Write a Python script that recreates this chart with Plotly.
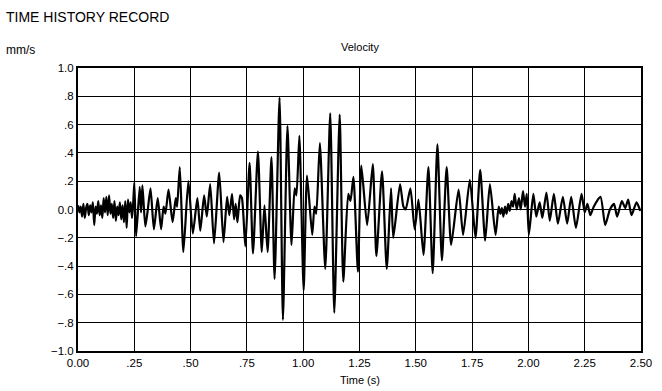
import plotly.graph_objects as go

# Velocity time history (extrema)
time_s = [
    0.000, 0.006, 0.012, 0.018, 0.024, 0.030, 0.036, 0.042, 0.048, 0.054,
    0.060, 0.066, 0.072, 0.078, 0.084, 0.090, 0.096, 0.102, 0.108, 0.114,
    0.120, 0.126, 0.132, 0.138, 0.144, 0.150, 0.156, 0.162, 0.168, 0.174,
    0.180, 0.186, 0.192, 0.198, 0.204, 0.210, 0.216, 0.222, 0.228, 0.234,
    0.240, 0.245,
    0.25, 0.258, 0.274, 0.28, 0.286, 0.299, 0.31, 0.322, 0.337, 0.354,
    0.369, 0.38, 0.388, 0.402, 0.42, 0.434, 0.44, 0.452, 0.468, 0.490,
    0.51, 0.53, 0.543, 0.56, 0.572, 0.587, 0.604, 0.627, 0.646, 0.662,
    0.672, 0.684, 0.693, 0.70, 0.708, 0.72, 0.728, 0.743, 0.762, 0.777,
    0.799, 0.816, 0.828, 0.842, 0.859, 0.873, 0.895, 0.91, 0.93, 0.948,
    0.962, 0.97, 0.983, 1.002, 1.017, 1.04, 1.05, 1.058, 1.074, 1.098,
    1.12, 1.138, 1.162, 1.178, 1.20, 1.21, 1.223, 1.243, 1.258, 1.284,
    1.309, 1.325, 1.35, 1.371, 1.39, 1.40, 1.43, 1.445, 1.455, 1.476,
    1.495, 1.512, 1.534, 1.556, 1.575, 1.596, 1.616, 1.637, 1.657, 1.69,
    1.71, 1.74, 1.765, 1.786, 1.808, 1.829, 1.854, 1.868, 1.875, 1.882,
    1.889, 1.896, 1.903, 1.910, 1.917, 1.925, 1.932, 1.939, 1.948, 1.958,
    1.966, 1.976, 1.985,
    1.993, 2.002, 2.022, 2.035, 2.05, 2.062, 2.08, 2.095, 2.113, 2.131,
    2.153, 2.172, 2.19, 2.211, 2.236, 2.25, 2.262, 2.275, 2.29, 2.32,
    2.341, 2.362, 2.38, 2.394, 2.415, 2.43, 2.443, 2.458, 2.48, 2.497,
]
velocity = [
    0.03, -0.02, 0.02, -0.05, 0.04, -0.06, 0.01, 0.04, -0.04, 0.03,
    -0.02, 0.05, -0.11, 0.02, -0.03, 0.06, -0.04, 0.03, -0.06, 0.08,
    -0.02, 0.09, -0.04, 0.10, -0.03, 0.04, -0.06, 0.06, -0.08, 0.02,
    -0.04, 0.05, -0.07, 0.03, -0.09, 0.06, -0.13, 0.07, -0.02, 0.05,
    -0.06, 0.04,
    0.19, -0.19, 0.16, -0.02, 0.17, -0.12, 0.00, 0.15, -0.14, 0.08,
    -0.14, 0.02, -0.03, 0.14, -0.09, 0.08, 0.02, 0.30, -0.30, 0.20,
    -0.17, 0.08, -0.15, 0.10, -0.05, 0.18, -0.24, 0.26, -0.23, 0.09,
    -0.04, 0.11, -0.07, 0.04, -0.09, 0.10, 0.08, -0.26, 0.33, -0.31,
    0.41, -0.30, 0.03, -0.30, 0.37, -0.49, 0.79, -0.78, 0.59, -0.25,
    0.15, 0.10, 0.52, -0.57, 0.24, -0.18, 0.02, -0.03, 0.47, -0.42,
    0.68, -0.73, 0.67, -0.51, 0.11, 0.06, 0.23, -0.44, 0.31, -0.11,
    0.32, -0.33, 0.27, -0.42, 0.15, -0.20, 0.18, 0.02, 0.00, 0.15,
    -0.14, 0.07, -0.32, 0.30, -0.45, 0.46, -0.36, 0.30, -0.25, 0.14,
    -0.18, 0.21, -0.20, 0.28, -0.22, 0.18, -0.18, 0.02, -0.03, 0.01,
    -0.05, 0.02, -0.03, 0.04, -0.01, 0.06, 0.02, 0.11, 0.00, 0.08,
    0.00, 0.13, 0.02,
    0.11, -0.18, 0.11, -0.05, 0.05, -0.06, 0.12, -0.08, 0.11, -0.10,
    0.09, -0.10, 0.09, -0.13, 0.11, -0.02, 0.04, -0.04, 0.02, 0.09,
    -0.11, 0.00, 0.04, -0.05, 0.06, 0.01, 0.07, -0.04, 0.05, -0.01,
]

x_tick_vals = [0, 0.25, 0.5, 0.75, 1.0, 1.25, 1.5, 1.75, 2.0, 2.25, 2.5]
x_tick_text = ["0.00", ".25", ".50", ".75", "1.00", "1.25", "1.50", "1.75", "2.00", "2.25", "2.50"]
y_tick_vals = [1.0, 0.8, 0.6, 0.4, 0.2, 0.0, -0.2, -0.4, -0.6, -0.8, -1.0]
y_tick_text = ["1.0", ".8", ".6", ".4", ".2", "0.0", "\u2212.2", "\u2212.4", "\u2212.6", "\u2212.8", "\u22121.0"]

FONT = "Liberation Sans, Arial, Helvetica, sans-serif"

fig = go.Figure()
fig.add_trace(go.Scatter(
    x=time_s, y=velocity, mode="lines",
    line=dict(color="black", width=2.2, shape="spline", smoothing=0.6),
    showlegend=False, hoverinfo="x+y",
))

fig.update_layout(
    width=662, height=391,
    margin=dict(l=78, r=10, t=68, b=40),
    paper_bgcolor="white", plot_bgcolor="white",
    font=dict(family=FONT, size=11, color="black"),
    xaxis=dict(
        range=[0, 2.5], tickvals=x_tick_vals, ticktext=x_tick_text,
        showgrid=True, gridcolor="black", gridwidth=1,
        showline=True, linecolor="black", linewidth=2, mirror=True,
        ticks="", zeroline=False, tickfont=dict(size=11.5),
    ),
    yaxis=dict(
        range=[-1, 1], tickvals=y_tick_vals, ticktext=y_tick_text,
        showgrid=True, gridcolor="black", gridwidth=1,
        showline=True, linecolor="black", linewidth=2, mirror=True,
        ticks="", zeroline=False, tickfont=dict(size=11.5),
    ),
    annotations=[
        dict(text="TIME HISTORY RECORD", xref="paper", yref="paper",
             x=-0.1307, y=1.180, xanchor="left", yanchor="middle",
             showarrow=False, font=dict(size=14)),
        dict(text="mm/s", xref="paper", yref="paper",
             x=-0.1307, y=1.0636, xanchor="left", yanchor="middle",
             showarrow=False, font=dict(size=12)),
        dict(text="Velocity", xref="paper", yref="paper",
             x=0.5, y=1.074, xanchor="center", yanchor="middle",
             showarrow=False, font=dict(size=11)),
        dict(text="Time (s)", xref="paper", yref="paper",
             x=0.5, y=-0.104, xanchor="center", yanchor="middle",
             showarrow=False, font=dict(size=11)),
    ],
)

post = (
    "document.documentElement.style.margin='0';"
    "document.documentElement.style.overflow='hidden';"
    "document.body.style.margin='0';"
    "document.body.style.padding='0';"
    "document.body.style.overflow='hidden';"
    "var gd=document.getElementById('{plot_id}');"
    "Plotly.relayout(gd,{width:662,height:391});"
)

fig.write_html("out.html", post_script=post,
               config={"responsive": False, "displayModeBar": False})
